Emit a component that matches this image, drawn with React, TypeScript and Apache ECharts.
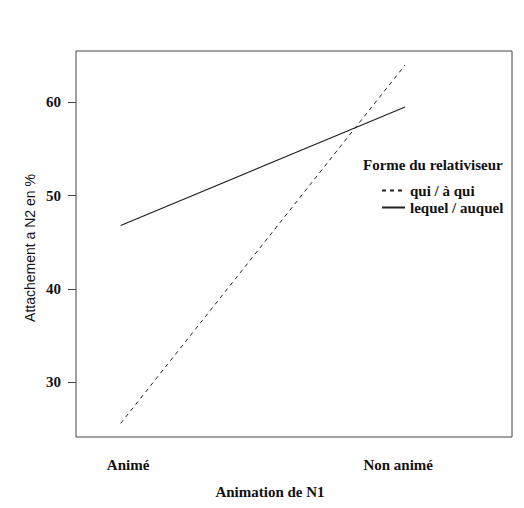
import React, { useEffect, useRef } from "react";
import * as echarts from "echarts";

const categories = ["Animé", "Non animé"];
const categoryPositions = [1, 2];
const categoryLabelPositions = [1.026, 1.976];
const seriesNames = ["qui / à qui", "lequel / auquel"];
const quiValues = [25.6, 64.0];
const lequelValues = [46.8, 59.5];
const yTicks = [30, 40, 50, 60];
const legendTitle = "Forme du relativiseur";
const xTitle = "Animation de N1";
const yTitle = "Attachement a N2 en %";

const SERIF = "'Liberation Serif', 'Times New Roman', serif";
const SANS = "'Liberation Sans', Arial, sans-serif";
const INK = "#222";

export default function App() {
  const ref = useRef<HTMLDivElement>(null);
  useEffect(() => {
    if (!ref.current) return;
    const chart = echarts.init(ref.current, null, { renderer: "svg" });
    const toPairs = (vals: number[]) => vals.map((v, i) => [categoryPositions[i], v]);
    chart.setOption({
      animation: false,
      backgroundColor: "#fff",
      grid: {
        left: 76,
        top: 51,
        right: 12,
        bottom: 71,
        show: true,
        borderColor: "#444",
        borderWidth: 1,
        backgroundColor: "transparent",
      },
      xAxis: {
        type: "value",
        min: 0.843,
        max: 2.376,
        axisLine: { show: false },
        axisTick: { show: false },
        splitLine: { show: false },
        axisLabel: {
          customValues: categoryLabelPositions,
          formatter: (v: number) => {
            let best = 0;
            categoryLabelPositions.forEach((p, i) => {
              if (Math.abs(p - v) < Math.abs(categoryLabelPositions[best] - v)) best = i;
            });
            return categories[best];
          },
          margin: 20,
          fontFamily: SERIF,
          fontWeight: "bold",
          fontSize: 15,
          color: "#111",
        },
      },
      yAxis: {
        type: "value",
        min: 24.14,
        max: 65.5,
        axisLine: { show: false },
        splitLine: { show: false },
        axisTick: {
          show: true,
          customValues: yTicks,
          length: 8,
          lineStyle: { color: "#444", width: 1 },
        },
        axisLabel: {
          customValues: yTicks,
          margin: 15,
          fontFamily: SERIF,
          fontWeight: "bold",
          fontSize: 15,
          color: "#111",
        },
      },
      legend: {
        orient: "vertical",
        left: 376,
        top: 178,
        itemWidth: 23,
        itemHeight: 14,
        itemGap: 2,
        data: seriesNames,
        itemStyle: { color: "rgba(0,0,0,0)", borderWidth: 0, opacity: 0 },
        textStyle: {
          fontFamily: SERIF,
          fontWeight: "bold",
          fontSize: 15,
          color: "#111",
        },
      },
      graphic: [
        {
          type: "text",
          left: 363,
          top: 157,
          style: {
            text: legendTitle,
            fontFamily: SERIF,
            fontWeight: "bold",
            fontSize: 15,
            fill: "#111",
          },
        },
        {
          type: "text",
          x: 270,
          y: 492,
          style: {
            text: xTitle,
            fontFamily: SERIF,
            fontWeight: "bold",
            fontSize: 15,
            fill: "#111",
            align: "center",
            verticalAlign: "middle",
          },
        },
        {
          type: "text",
          x: 30,
          y: 248,
          rotation: Math.PI / 2,
          style: {
            text: yTitle,
            fontFamily: SANS,
            fontSize: 14,
            fill: "#111",
            align: "center",
            verticalAlign: "middle",
          },
        },
      ],
      series: [
        {
          name: seriesNames[0],
          type: "line",
          data: toPairs(quiValues),
          symbol: "none",
          lineStyle: { color: INK, width: 1, type: [4, 4] },
          itemStyle: { color: INK },
        },
        {
          name: seriesNames[1],
          type: "line",
          data: toPairs(lequelValues),
          symbol: "none",
          lineStyle: { color: INK, width: 1.2, type: "solid" },
          itemStyle: { color: INK },
        },
      ],
    });
    return () => chart.dispose();
  }, []);
  return <div ref={ref} style={{ width: 524, height: 508, position: "absolute", left: 0, top: 0 }} />;
}
